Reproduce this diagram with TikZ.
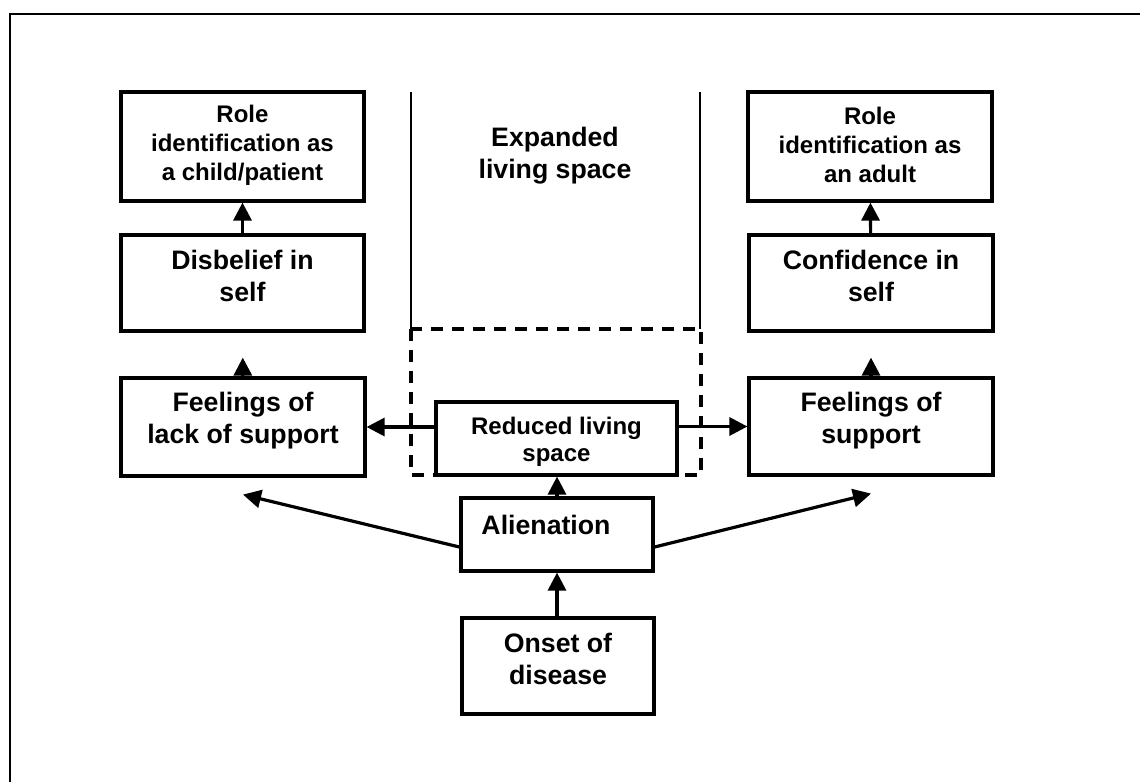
\documentclass[tikz,border=0pt]{standalone}
\usepackage{fontspec}
\setmainfont{Liberation Sans}
\usetikzlibrary{arrows.meta}

\tikzset{
  box/.style={draw, line width=3.2pt, fill=white, inner sep=0pt},
  bigtxt/.style={align=center, inner sep=0pt, font=\bfseries\fontsize{26.7}{32}\selectfont},
  smalltxt/.style={align=center, inner sep=0pt, font=\bfseries\fontsize{24}{29}\selectfont},
  link/.style={line width=3.2pt, -{Triangle[width=18pt,length=18pt]}},
  zone/.style={line width=2.8pt},
  zonedash/.style={line width=3.6pt, dash pattern=on 12pt off 9pt}
}

\begin{document}
\begin{tikzpicture}[x=1pt,y=1pt]
    \useasboundingbox (0,0) rectangle (1140,-782);
    % frame
    \draw [line width=2.6pt] (10,-782) -- (10,-14) -- (1140,-14);
    % living space
    \draw [zone] (411,-92) -- (411,-329);
    \draw [zone] (700,-92) -- (700,-329);
    \draw [zonedash] (411,-329) rectangle (701,-475);
    \node [bigtxt] (expanded) at (555,-156) {Expanded\\living space};
    % left column
    \node [box, minimum width=243, minimum height=109,
      label={[smalltxt, yshift=1.5]center:Role\\identification as\\a child/patient}] (rolechild) at (242.5,-146.5) {};
    \node [box, minimum width=243, minimum height=96,
      label={[bigtxt, yshift=7]center:Disbelief in\\self}] (disbelief) at (242.5,-283) {};
    \node [box, minimum width=244, minimum height=98,
      label={[bigtxt, yshift=6]center:Feelings of\\lack of support}] (lacksup) at (243,-427) {};
    % right column
    \node [box, minimum width=244, minimum height=109,
      label={[smalltxt, yshift=1.5]center:Role\\identification as\\an adult}] (roleadult) at (870,-146.5) {};
    \node [box, minimum width=244, minimum height=96,
      label={[bigtxt, yshift=7]center:Confidence in\\self}] (confidence) at (871,-283) {};
    \node [box, minimum width=244, minimum height=97,
      label={[bigtxt, yshift=6]center:Feelings of\\support}] (support) at (871,-426.5) {};
    % middle
    \node [box, minimum width=241, minimum height=73,
      label={[smalltxt, font=\bfseries\fontsize{24}{27}\selectfont, yshift=-3]center:Reduced living\\space}] (reduced) at (556.5,-438.5) {};
    \node [box, minimum width=192, minimum height=73,
      label={[bigtxt, xshift=-11, yshift=10]center:Alienation}] (alienation) at (557,-534.5) {};
    \node [box, minimum width=192, minimum height=96,
      label={[bigtxt, yshift=7]center:Onset of\\disease}] (onset) at (558,-666) {};
    % connectors
    \draw [link] (disbelief) -- (rolechild);
    \draw [link] (confidence) -- (roleadult);
    \draw [link, shorten >=25pt] (lacksup) -- (disbelief);
    \draw [link, shorten >=25pt] (support) -- (confidence);
    \draw [link] (lacksup.east -| reduced.west) -- (lacksup.east);
    \draw [link] (support.west -| reduced.east) -- (support.west);
    \draw [link] (alienation.north) -- (alienation.north |- reduced.south);
    \draw [link] (onset.north -| alienation.north) -- (alienation.south);
    \draw [link] ([yshift=-12.5]alienation.west) -- ([yshift=-17]lacksup.south);
    \draw [link] ([yshift=-12.5]alienation.east) -- ([yshift=-17]support.south);
\end{tikzpicture}
\end{document}
